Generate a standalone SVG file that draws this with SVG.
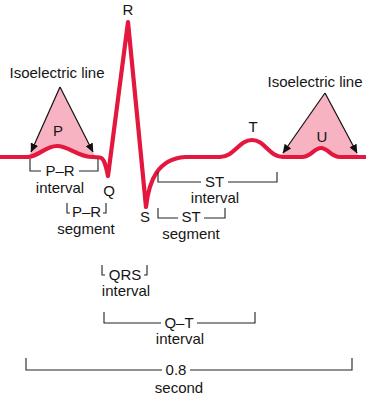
<svg xmlns="http://www.w3.org/2000/svg" width="366" height="400" viewBox="0 0 366 400">
<style>
text{font-family:"Liberation Sans",Arial,sans-serif;font-size:15px;fill:#151515;text-anchor:middle}
.wave{fill:none;stroke:#e4173f;stroke-width:4.2;stroke-linejoin:round;stroke-linecap:butt}
.pink{fill:#f7b3c2;stroke:none}
.arrow{stroke:#111;stroke-width:1.2;fill:none}
.br{stroke:#222;stroke-width:1.1;fill:none}
</style>
<defs>
<marker id="ah" markerWidth="9" markerHeight="8" refX="8.5" refY="4" orient="auto" markerUnits="userSpaceOnUse">
<path d="M0,0 L9,4 L0,8 Z" fill="#111"/>
</marker>
</defs>
<rect width="366" height="400" fill="#fff"/>
<g id="iso-left">
<path class="pink" d="M60,87 L28.5,157 C38,157 45,146 57,146 C69,146 78,157 93,157 L95.5,157 Z"/>
<line class="arrow" x1="60" y1="87" x2="31" y2="152" marker-end="url(#ah)"/>
<line class="arrow" x1="60" y1="87" x2="93" y2="152" marker-end="url(#ah)"/>
<text x="57" y="78">Isoelectric line</text>
</g>
<g id="iso-right">
<path class="pink" d="M325,93 L280,157 L302,157 C311,157 314,148 321,148 C328,148 331,157 340,157 L359,157 Z"/>
<line class="arrow" x1="325" y1="93" x2="283" y2="153" marker-end="url(#ah)"/>
<line class="arrow" x1="325" y1="93" x2="357" y2="153" marker-end="url(#ah)"/>
<text x="315" y="87">Isoelectric line</text>
</g>
<g id="wave">
<path class="wave" d="M0,157 L28,157 C38,157 45,146 57,146 C69,146 78,157 93,157 L100,157.5 C104,158 106,166 108,176 L128,22 L146,207 C149,180 158,159 185,157 L220,157 C234,157 239,140 252,140 C265,140 269,157 283,157 L302,157 C311,157 314,148 321,148 C328,148 331,157 340,157 L366,157"/>
</g>
<g id="wave-labels">
<text x="128" y="15">R</text>
<text x="58" y="136">P</text>
<text x="253" y="132">T</text>
<text x="322" y="142">U</text>
<text x="109" y="196">Q</text>
<text x="145" y="222">S</text>
</g>
<g id="connectors">
<path class="br" d="M30,159 V171 H41 M79,171 H98 V159"/>
<path class="br" d="M67,203 V213 H70 M103,213 H106 V203"/>
<path class="br" d="M158,172 V182 H201 M228,182 H277 V172"/>
<path class="br" d="M158,208 V218 H178 M204,218 H225 V208"/>
<path class="br" d="M102,265 V275 H105 M144,275 H147 V265"/>
<path class="br" d="M104,312 V323 H161 M197,323 H255 V312"/>
<path class="br" d="M26,358 V370 H162 M190,370 H352 V358"/>
</g>
<g id="pr-interval"><text x="60" y="176">P–R</text><text x="60" y="193">interval</text></g>
<g id="pr-segment"><text x="86.5" y="217">P–R</text><text x="86" y="234">segment</text></g>
<g id="st-interval"><text x="214.5" y="187">ST</text><text x="215" y="203">interval</text></g>
<g id="st-segment"><text x="191" y="222">ST</text><text x="191" y="239">segment</text></g>
<g id="qrs-interval"><text x="125" y="280">QRS</text><text x="126" y="296">interval</text></g>
<g id="qt-interval"><text x="179" y="328">Q–T</text><text x="180" y="344">interval</text></g>
<g id="second"><text x="176" y="375">0.8</text><text x="179" y="393">second</text></g>
</svg>
